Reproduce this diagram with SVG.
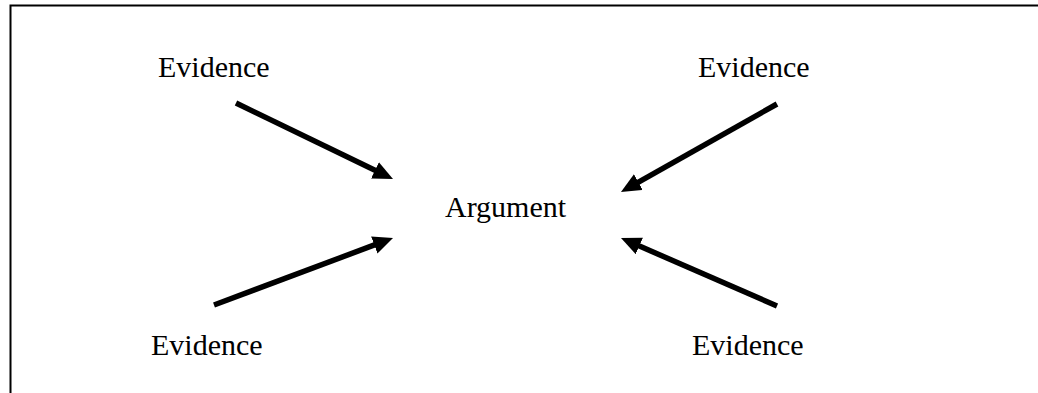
<svg xmlns="http://www.w3.org/2000/svg" width="1038" height="393" viewBox="0 0 1038 393">
<style>
.t{font-family:"Liberation Serif","Times New Roman",serif;font-size:30px;fill:#000}
.c{stroke:#000;stroke-width:5.5;fill:none;marker-end:url(#ah)}
</style>
<defs>
<marker id="ah" markerUnits="userSpaceOnUse" markerWidth="22" markerHeight="20" refX="8" refY="9" orient="auto">
<path d="M0,0 L20,9 L0,18 z" fill="#000"/>
</marker>
</defs>
<rect width="1038" height="393" fill="#fff"/>
<path d="M10.5,393 V5.5 H1038" stroke="#000" stroke-width="2" fill="none"/>
<g id="connectors">
<line class="c" x1="236" y1="103" x2="382.2" y2="173.8"/>
<line class="c" x1="777" y1="104" x2="631.4" y2="186.1"/>
<line class="c" x1="214" y1="305" x2="381.8" y2="242.2"/>
<line class="c" x1="777" y1="306" x2="632" y2="242.8"/>
</g>
<g id="argument"><text class="t" x="445" y="217">Argument</text></g>
<g id="evidence-tl"><text class="t" x="158" y="77">Evidence</text></g>
<g id="evidence-tr"><text class="t" x="698" y="77">Evidence</text></g>
<g id="evidence-bl"><text class="t" x="151" y="355">Evidence</text></g>
<g id="evidence-br"><text class="t" x="692" y="355">Evidence</text></g>
</svg>
